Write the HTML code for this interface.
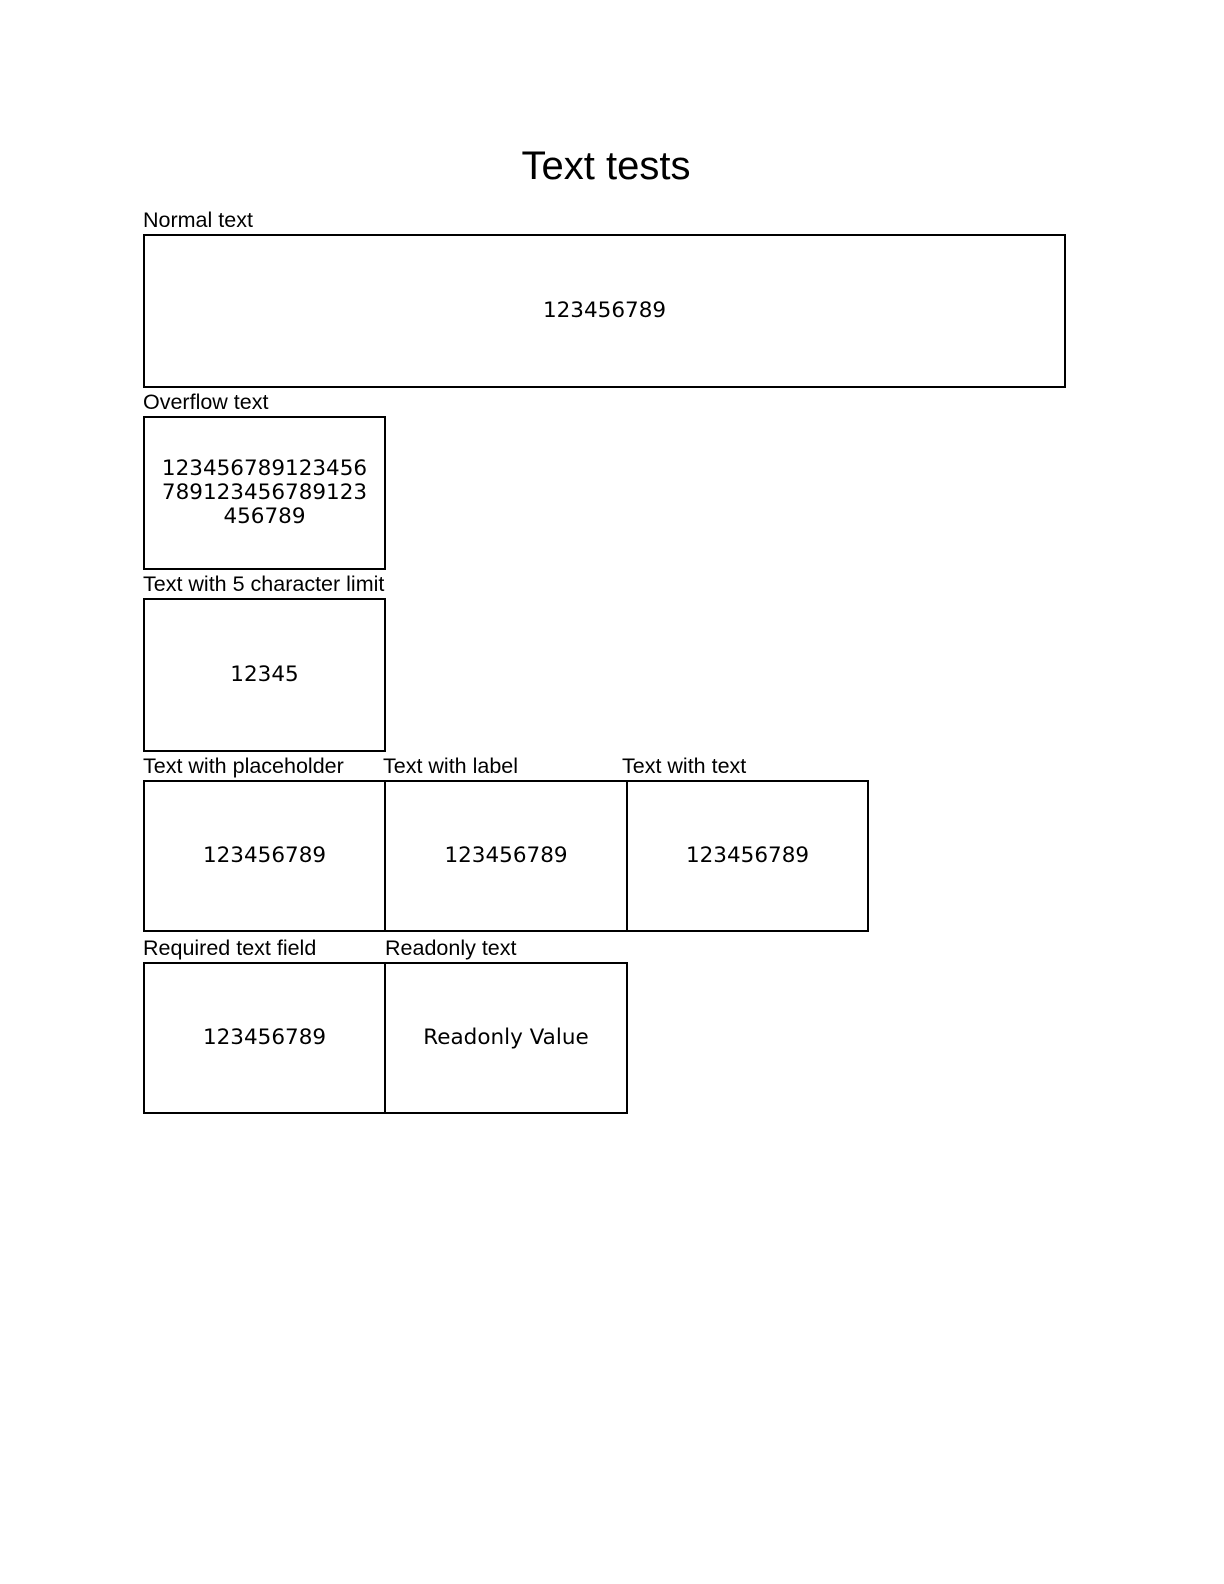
<!DOCTYPE html>
<html style="overflow:hidden"><head><meta charset="utf-8"><style>
html,body{margin:0;padding:0;overflow:hidden}
body{width:1224px;height:1584px;background:#fff;position:relative;font-family:"Liberation Sans",sans-serif;color:#000}
.t{position:absolute;left:0;width:1212px;top:142px;text-align:center;font-size:40px;line-height:48px}
.l{position:absolute;font-size:21.5px;line-height:22px;white-space:nowrap}
.b{position:absolute;border:2px solid #000;box-sizing:border-box;display:flex;align-items:center;justify-content:center;text-align:center;font-family:"DejaVu Sans",sans-serif;font-size:21.5px;line-height:24px}
</style></head><body>
<div class="t">Text tests</div>
<div class="l" style="left:143px;top:209px">Normal text</div>
<div class="b" style="left:143px;top:234px;width:923px;height:154px">123456789</div>
<div class="l" style="left:143px;top:391px">Overflow text</div>
<div class="b" style="left:143px;top:416px;width:243px;height:154px;padding:0 12px">123456789123456<br>789123456789123<br>456789</div>
<div class="l" style="left:143px;top:573px">Text with 5 character limit</div>
<div class="b" style="left:143px;top:598px;width:243px;height:154px">12345</div>
<div class="l" style="left:143px;top:755px">Text with placeholder</div>
<div class="l" style="left:383px;top:755px">Text with label</div>
<div class="l" style="left:622px;top:755px">Text with text</div>
<div class="b" style="left:143px;top:780px;width:243px;height:152px">123456789</div>
<div class="b" style="left:384px;top:780px;width:244px;height:152px">123456789</div>
<div class="b" style="left:626px;top:780px;width:243px;height:152px">123456789</div>
<div class="l" style="left:143px;top:937px">Required text field</div>
<div class="l" style="left:385px;top:937px">Readonly text</div>
<div class="b" style="left:143px;top:962px;width:243px;height:152px">123456789</div>
<div class="b" style="left:384px;top:962px;width:244px;height:152px">Readonly Value</div>
</body></html>
